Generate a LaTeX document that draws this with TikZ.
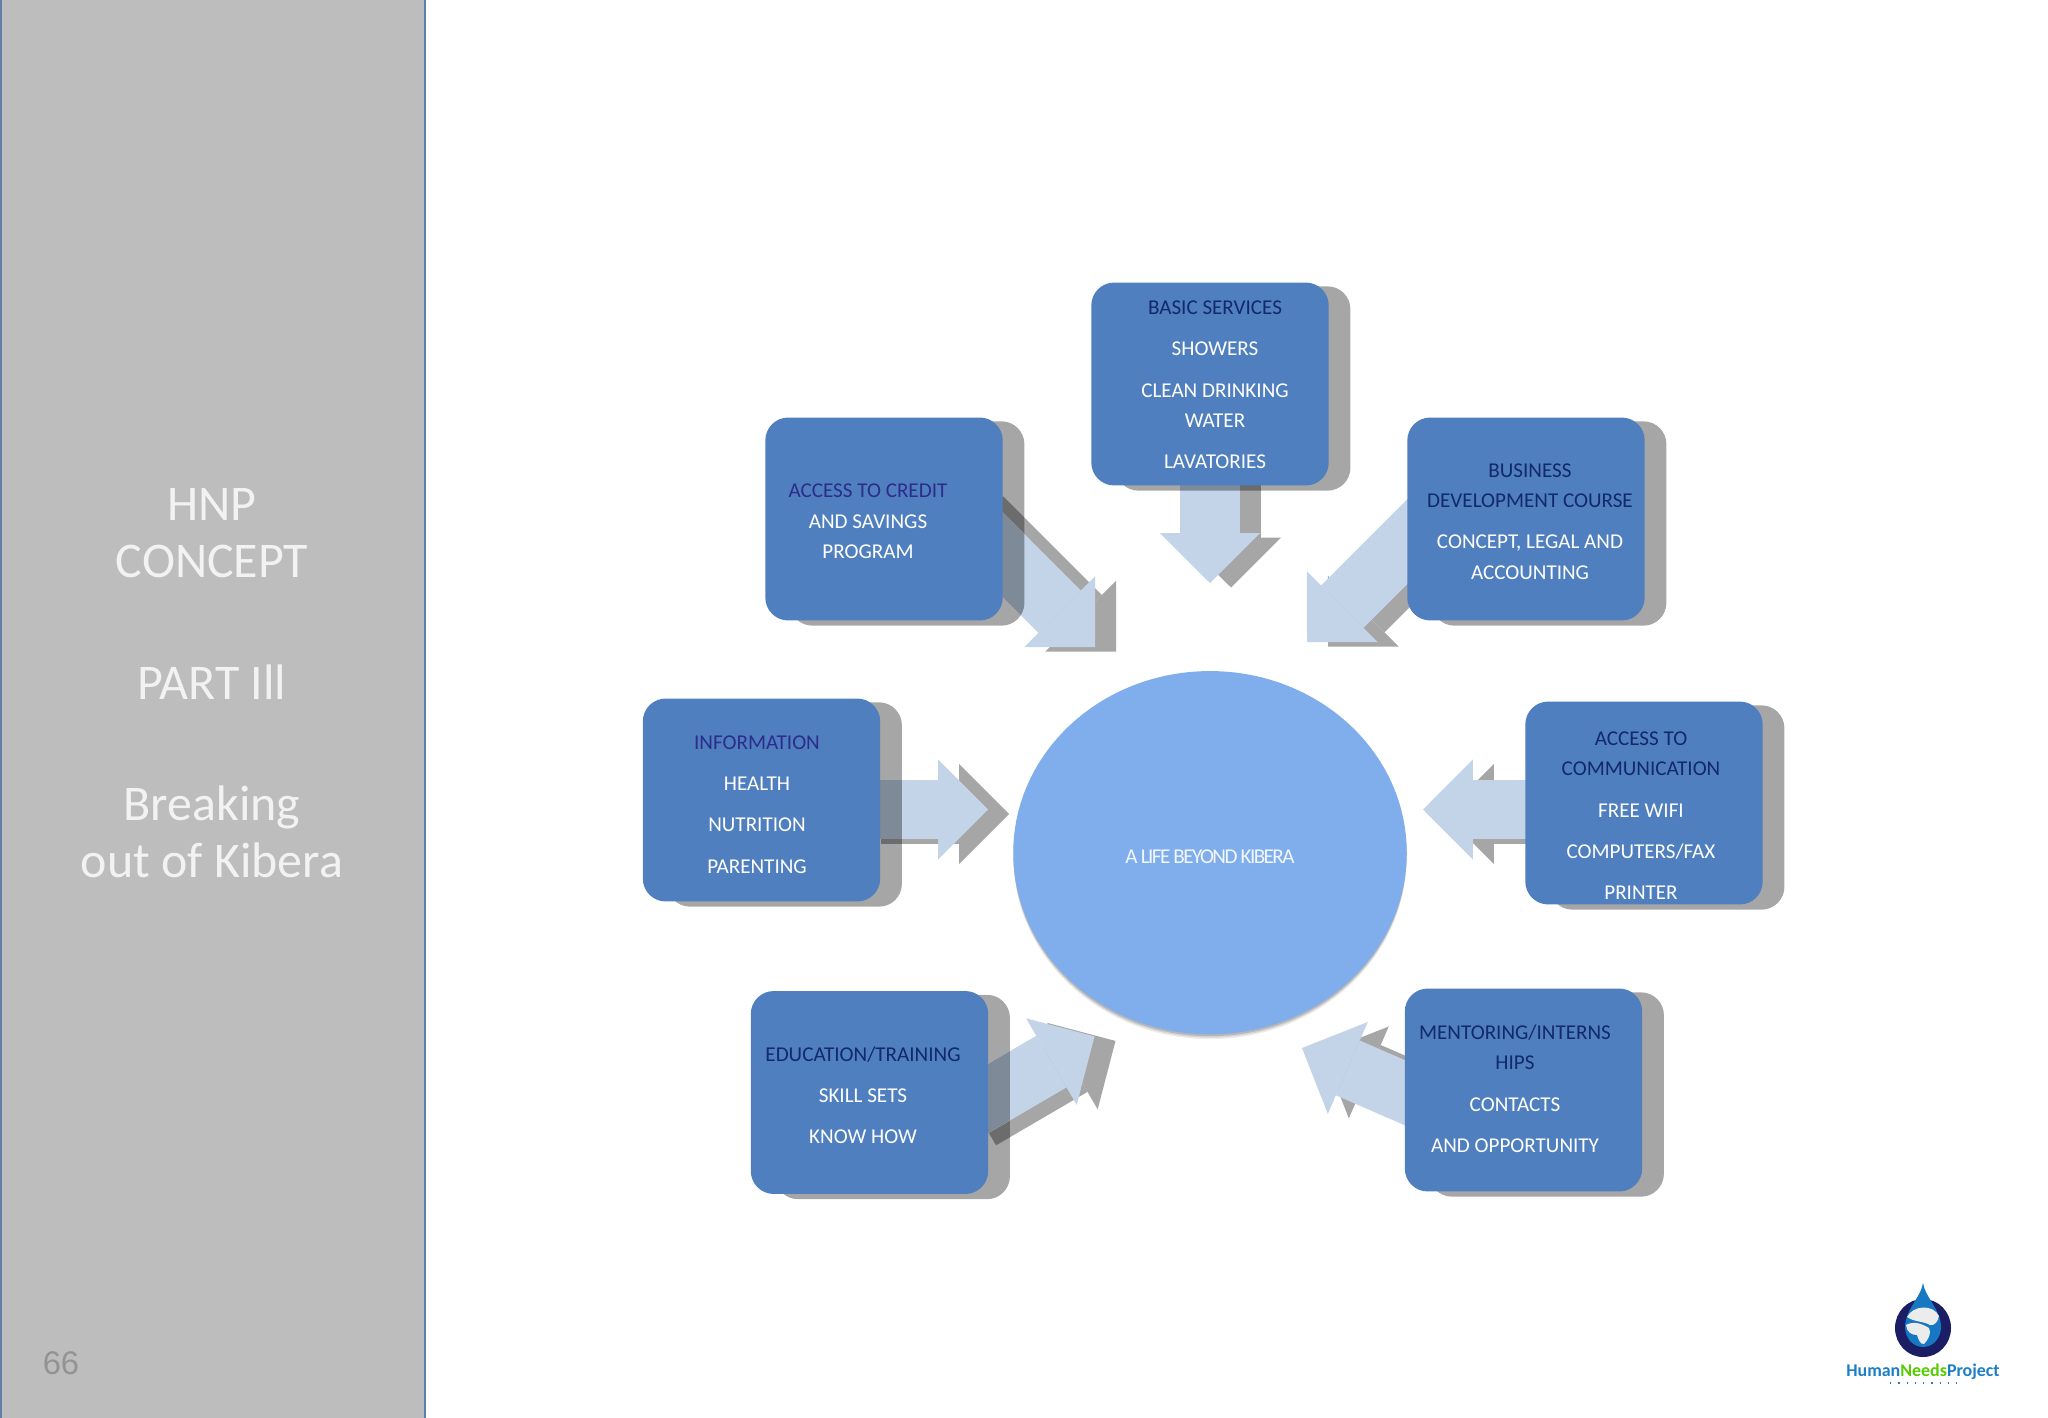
\documentclass[tikz,border=0pt]{standalone}
\usepackage{fontspec}
\setmainfont{Carlito}
\newfontfamily\numfont{Liberation Sans}
\usetikzlibrary{arrows.meta,backgrounds,shapes.geometric}

\definecolor{boxblue}{HTML}{4F7FBE}
\definecolor{hubblue}{HTML}{80AEEC}
\definecolor{shadegray}{HTML}{A6A6A6}
\definecolor{shadedark}{HTML}{6C6C6C}
\definecolor{arrowblue}{HTML}{C3D3E8}
\definecolor{arrowdark}{HTML}{7F8A98}
\definecolor{headnavy}{HTML}{12296B}
\definecolor{headpurple}{HTML}{2C2C8C}
\definecolor{sidegray}{HTML}{BDBDBD}

\tikzset{
	bluebox/.style={fill=boxblue,rounded corners=6.5pt,minimum width=67.5pt,minimum height=57.7pt,inner sep=0pt},
	boxtext/.style={align=center,font=\fontsize{6}{8.7}\selectfont,text=white,inner sep=0pt},
	sidetext/.style={align=center,font=\fontsize{14.2}{16.4}\selectfont,text=white!95!black,inner sep=0pt},
	fatarrow/.style={line width=17pt,-{Triangle[length=14.2pt,width=28.5pt,line width=0pt]}},
}

% arrow with its shade, darker where it lies over the shade of the box
\newcommand{\fatconn}[3]{
	\draw[fatarrow,shadegray] ([shift={(21,4.5)}]#1) -- ([shift={(21,4.5)}]#2);
	\begin{scope}
		\clip[rounded corners=6.5pt] ([shift={(25,4.5)}]#3.north west) rectangle ([shift={(21,4.5)}]#3.south east);
		\draw[fatarrow,shadedark] ([shift={(21,4.5)}]#1) -- ([shift={(21,4.5)}]#2);
	\end{scope}
	\draw[fatarrow,arrowblue] (#1) -- (#2);
	\begin{scope}
		\clip[rounded corners=6.5pt] ([shift={(25,4.5)}]#3.north west) rectangle ([shift={(21,4.5)}]#3.south east);
		\draw[fatarrow,arrowdark] (#1) -- (#2);
	\end{scope}
}
\newcommand{\boxshade}[1]{
	\fill[shadegray,rounded corners=6.5pt] ([shift={(25,4.5)}]#1.north west) rectangle ([shift={(21,4.5)}]#1.south east);
}
\newcommand{\hd}[1]{\textcolor{headnavy}{#1}}
\newcommand{\hp}[1]{\textcolor{headpurple}{#1}}

\begin{document}
\begin{tikzpicture}[x=.01cm,y=-.01cm]
\useasboundingbox (0,0) rectangle (2048,1418);

% side panel
\fill[sidegray] (0,0) rectangle (425,1418);
\draw[color=boxblue!60!gray,line width=.4pt] (.8,0) -- (.8,1418);
\draw[color=boxblue!75!gray,line width=.5pt] (425,0) -- (425,1418);
\node[sidetext] (hnptitle) at (212,533) {HNP\\CONCEPT};
\node[sidetext] (parttitle) at (212,682) {PART Ill};
\node[sidetext] (breaktitle) at (212,832) {Breaking\\out of Kibera};
\node[font=\numfont\fontsize{9.3}{11}\selectfont,text=gray!85,inner sep=0pt] (pagenum) at (61,1363) {66};

% the boxes
\node[bluebox] (basic) at (1210,384) {};
\node[bluebox] (credit) at (884,519) {};
\node[bluebox] (business) at (1526,519) {};
\node[bluebox] (info) at (761.5,800) {};
\node[bluebox] (comm) at (1644,803) {};
\node[bluebox] (educ) at (869.5,1092.5) {};
\node[bluebox] (mentor) at (1523.5,1090) {};

\node[boxtext] (basictxt) at (1215,385) {\hd{BASIC SERVICES}\\[3pt]SHOWERS\\[3pt]CLEAN DRINKING\\WATER\\[3pt]LAVATORIES};
\node[boxtext] (credittxt) at (868,521.5) {\hp{ACCESS TO CREDIT}\\AND SAVINGS\\PROGRAM};
\node[boxtext] (businesstxt) at (1530,521.5) {\hd{BUSINESS}\\\hd{DEVELOPMENT COURSE}\\[3pt]CONCEPT, LEGAL AND\\ACCOUNTING};
\node[boxtext] (infotxt) at (757,804.5) {\hp{INFORMATION}\\[3pt]HEALTH\\[3pt]NUTRITION\\[3pt]PARENTING};
\node[boxtext] (commtxt) at (1641,815.5) {\hd{ACCESS TO}\\\hd{COMMUNICATION}\\[3pt]FREE WIFI\\[3pt]COMPUTERS/FAX\\[3pt]PRINTER};
\node[boxtext] (eductxt) at (863,1095.5) {\hd{EDUCATION/TRAINING}\\[3pt]SKILL SETS\\[3pt]KNOW HOW};
\node[boxtext] (mentortxt) at (1515,1088.5) {\hd{MENTORING/INTERNS}\\\hd{HIPS}\\[3pt]CONTACTS\\[3pt]AND OPPORTUNITY};

% the middle
\node[ellipse,fill=hubblue,minimum width=111.9pt,minimum height=103.3pt,inner sep=0pt,text=white!90!hubblue,font=\fontsize{6}{7}\selectfont\addfontfeature{LetterSpace=-7.5}] (hub) at (1210,852.7) {\raisebox{-3pt}[0pt][0pt]{A LIFE BEYOND KIBERA}};

% ends of the arrows
\coordinate (basicfrom) at (1210,470);
\coordinate (basictip) at (1210,583);
\coordinate (creditfrom) at (961,513);
\coordinate (credittip) at (1095,647);
\coordinate (businessfrom) at (1440,509);
\coordinate (businesstip) at (1307,642);
\coordinate (infofrom) at (860,809.5);
\coordinate (infotip) at (988,809.5);
\coordinate (commfrom) at (1550,809.5);
\coordinate (commtip) at (1423,809.5);
\coordinate (educfrom) at (960,1115);
\coordinate (eductip) at (1094.5,1036.4);
\coordinate (mentorfrom) at (1440,1108);
\coordinate (mentortip) at (1302,1048);

\begin{scope}[on background layer]
	\foreach \s/\o in {5/.07,3.5/.1,2/.14}
		\fill[black,opacity=\o] (1210,852.7+\s) ellipse (196.5 and 181.5);
	\boxshade{basic}
	\boxshade{credit}
	\boxshade{business}
	\boxshade{info}
	\boxshade{comm}
	\boxshade{educ}
	\boxshade{mentor}
	\fatconn{basicfrom}{basictip}{basic}
	\fatconn{creditfrom}{credittip}{credit}
	\fatconn{businessfrom}{businesstip}{business}
	\fatconn{infofrom}{infotip}{info}
	\fatconn{commfrom}{commtip}{comm}
	\fatconn{educfrom}{eductip}{educ}
	\fatconn{mentorfrom}{mentortip}{mentor}
\end{scope}

% logo
\fill[color={rgb,255:red,27;green,30;blue,100}] (1923,1328) ellipse (28 and 29);
\fill[color={rgb,255:red,22;green,120;blue,195}] (1923,1283) .. controls (1925,1297) and (1941,1310) .. (1941,1327) .. controls (1941,1338) and (1933,1347) .. (1923,1347) .. controls (1913,1347) and (1905,1338) .. (1905,1327) .. controls (1905,1310) and (1921,1297) .. (1923,1283) -- cycle;
\fill[gray!15] (1907,1317) .. controls (1913,1305) and (1933,1304) .. (1939,1316) .. controls (1938,1322) and (1934,1326) .. (1930,1325) .. controls (1923,1321) and (1914,1322) .. (1907,1317) -- cycle;
\fill[gray!15] (1906,1325) .. controls (1913,1321) and (1921,1323) .. (1929,1328) .. controls (1932,1333) and (1928,1340) .. (1924,1344) .. controls (1920,1345) and (1918,1338) .. (1917,1335) .. controls (1911,1335) and (1907,1332) .. (1906,1325) -- cycle;
\node[inner sep=0pt,font=\fontsize{5.1}{7}\bfseries\selectfont,color={rgb,255:red,28;green,127;blue,196}] (logotext) at (1923,1372) {Human\textcolor{green!45!lime!80!black}{Needs}Project};
\draw[color={rgb,255:red,28;green,127;blue,196},line width=.35pt,dotted] (1890,1383) -- (1957,1383);
\end{tikzpicture}
\end{document}
